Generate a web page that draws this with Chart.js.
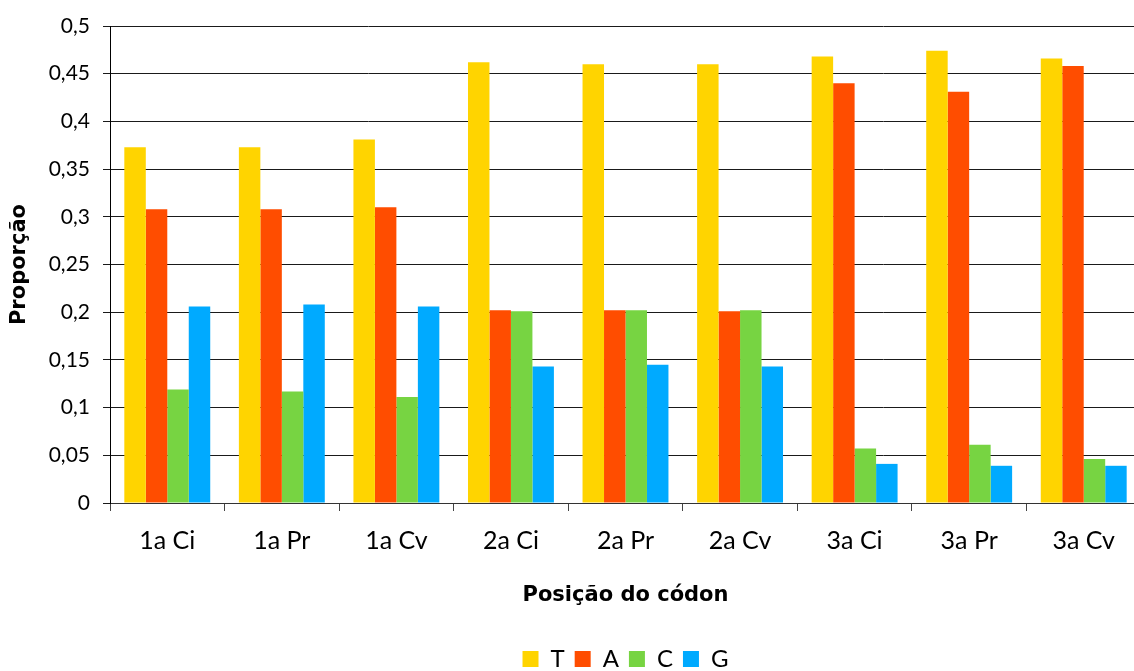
<!DOCTYPE html>
<html>
<head>
<meta charset="utf-8">
<title>Proporção de bases por posição do códon</title>
<script src="https://cdn.jsdelivr.net/npm/chart.js@4.4.1/dist/chart.umd.min.js"></script>
<style>
  html, body { margin: 0; padding: 0; background: #fff; overflow: hidden; }
  #wrap { width: 1141px; height: 681px; }
</style>
</head>
<body>
<div id="wrap"><canvas id="chart" width="1141" height="681"></canvas></div>
<script>
// Codon positions (1a/2a/3a) for each gene group
const categories = ['1a Ci', '1a Pr', '1a Cv', '2a Ci', '2a Pr', '2a Cv', '3a Ci', '3a Pr', '3a Cv'];

// Base proportions per codon position
const valuesT = [0.373, 0.373, 0.381, 0.462, 0.460, 0.460, 0.468, 0.474, 0.466];
const valuesA = [0.308, 0.308, 0.310, 0.202, 0.202, 0.201, 0.440, 0.431, 0.458];
const valuesC = [0.119, 0.117, 0.111, 0.201, 0.202, 0.202, 0.057, 0.061, 0.046];
const valuesG = [0.206, 0.208, 0.206, 0.143, 0.145, 0.143, 0.041, 0.039, 0.039];

// Y axis labels, bottom to top
const yTickLabels = ['0', '0,05', '0,1', '0,15', '0,2', '0,25', '0,3', '0,35', '0,4', '0,45', '0,5'];

const REGULAR = 'Lato, "DejaVu Sans", sans-serif';
const BOLD = '"DejaVu Sans", Lato, sans-serif';

function series(label, data, color) {
  return {
    label: label,
    data: data,
    backgroundColor: color,
    borderWidth: 0,
    categoryPercentage: 0.75,
    barPercentage: 1.0
  };
}

new Chart(document.getElementById('chart'), {
  type: 'bar',
  data: {
    labels: categories,
    datasets: [
      series('T', valuesT, '#FFD400'),
      series('A', valuesA, '#FF4D00'),
      series('C', valuesC, '#77D442'),
      series('G', valuesG, '#00AAFF')
    ]
  },
  options: {
    responsive: false,
    devicePixelRatio: 1,
    animation: false,
    layout: { padding: { left: 0, right: 0, top: 26, bottom: 0 } },
    plugins: {
      tooltip: { enabled: false },
      legend: {
        position: 'bottom',
        fullSize: false,
        labels: {
          boxWidth: 16,
          boxHeight: 16,
          padding: 10,
          color: '#000',
          font: { family: REGULAR, size: 24 }
        }
      }
    },
    scales: {
      x: {
        afterFit: function (scale) { scale.height = 134; },
        grid: {
          display: true,
          drawOnChartArea: false,
          drawTicks: true,
          tickLength: 8,
          color: '#444',
          offset: true
        },
        border: { display: true, color: '#333', width: 1 },
        ticks: {
          color: '#000',
          padding: 15,
          maxRotation: 0,
          font: { family: REGULAR, size: 25 }
        },
        title: {
          display: true,
          text: 'Posição do códon',
          color: '#000',
          padding: { top: 0, bottom: 29 },
          font: { family: BOLD, size: 21, weight: 'bold' }
        }
      },
      y: {
        min: 0,
        max: 0.5,
        afterFit: function (scale) { scale.width = 110; },
        grid: {
          color: '#1a1a1a',
          lineWidth: 1,
          drawTicks: true,
          tickLength: 7
        },
        border: { display: true, color: '#000', width: 1 },
        ticks: {
          stepSize: 0.05,
          color: '#000',
          padding: 13,
          font: { family: REGULAR, size: 21 },
          callback: function (value, index) { return yTickLabels[index]; }
        },
        title: {
          display: true,
          text: 'Proporção',
          color: '#000',
          padding: { top: 7, bottom: 0 },
          font: { family: BOLD, size: 21, weight: 'bold' }
        }
      }
    }
  }
});
</script>
</body>
</html>
